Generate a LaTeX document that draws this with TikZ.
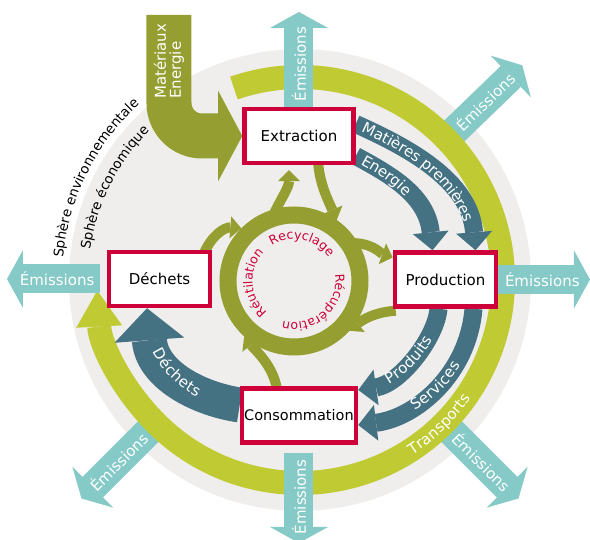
\documentclass[tikz,border=0pt]{standalone}
\usepackage{fontspec}
\setmainfont{DejaVu Sans}
\usetikzlibrary{
  arrows.meta,
  calc,
  backgrounds,
  decorations.text
}
\definecolor{spheregrey}{RGB}{239,238,236}
\definecolor{transportlime}{RGB}{192,202,51}
\definecolor{flowolive}{RGB}{149,158,48}
\definecolor{flowteal}{RGB}{69,114,130}
\definecolor{emisteal}{RGB}{133,202,199}
\definecolor{stagered}{RGB}{206,0,58}

\tikzset{
  stage/.style={draw=stagered, fill=white, line width=4.5pt, minimum height=54pt,
    inner sep=0pt, font=\fontsize{15}{18}\selectfont},
  emis/.style={draw=emisteal, line width=29pt,
    -{Triangle[width=58pt, length=16pt, line width=0pt]}},
  emislabel/.style={text=white, inner sep=0pt, font=\fontsize{15}{18}\selectfont},
  flowband/.style={draw=flowteal, line width=18pt,
    -{Triangle[width=36pt, length=18pt, line width=0pt]}},
  recyarrow/.style={draw=flowolive, line width=10pt,
    -{Triangle[width=22pt, length=11pt, line width=0pt]}},
  curvetext/.style={decorate, decoration={text along path, text align=center, text={#1}}},
  bandtext/.style={curvetext={|\fontsize{15}{18}\selectfont\color{white}|#1},
    decoration={raise=-5pt}},
  ringtext/.style={curvetext={|\fontsize{12.5}{14}\selectfont\color{stagered}|#1}}
}

\begin{document}
\begin{tikzpicture}[x=1pt, y=1pt]
  \useasboundingbox (-300,-260) rectangle (290,280);
  % stages
  \node[stage, minimum width=109pt] (extr) at (-1,144) {Extraction};
  \node[stage, minimum width=101pt] (prod) at (145.5,0.5) {Production};
  \node[stage, minimum width=101pt] (dech) at (-140.5,1) {Déchets};
  \node[stage, minimum width=114pt, font=\fontsize{14.5}{17}\selectfont] (cons) at (-1,-135.5) {Consommation};
  \node[circle, draw=flowolive, line width=17pt, outer sep=8.5pt, minimum size=132pt] (recy) at (-6,-1) {};

  \begin{scope}[on background layer]
    \fill[spheregrey] (0,0) circle[radius=231pt];
    \path[curvetext={|\fontsize{13.5}{15}\selectfont|Sphère environnementale}]
      (177:238) arc[start angle=177, end angle=130, radius=238pt];
    \path[curvetext={|\fontsize{13.5}{15}\selectfont|Sphère économique}]
      (176:212) arc[start angle=176, end angle=131, radius=212pt];
    % diagonal emissions
    \foreach \ang/\nm in {44/ne, -45/se, 225/sw} {
      \coordinate (\nm-in) at (\ang:205);
      \coordinate (\nm-out) at (\ang:309);
      \draw[emis] (\nm-in) -- (\nm-out) node[emislabel, midway, sloped] {Émissions};
    }
    % transports
    \draw[transportlime, line width=24pt, -{Triangle[width=46pt, length=36pt, line width=0pt]}]
      (109:203) arc[start angle=109, end angle=-177, radius=203pt];
    % materials and energy
    \coordinate (matin) at (-131,265);
    \draw[flowolive, line width=45pt, rounded corners=33pt,
      -{Triangle[width=90pt, length=24pt, line width=0pt]}] (matin) |- (extr.west);
    % flows between stages
    \draw[flowband] ([yshift=12pt]extr.east) .. controls (107,133) and (170,100) .. ([xshift=30pt]prod.north);
    \draw[flowband] ([yshift=-20pt]extr.east) .. controls (89,106) and (127,85) .. ([xshift=-13pt]prod.north);
    \draw[flowband] ([xshift=-7pt]prod.south) .. controls (136,-58) and (100,-104) .. ([yshift=25.5pt]cons.east);
    \draw[flowband] ([xshift=28pt]prod.south) .. controls (168,-95) and (115,-138) .. ([yshift=-9.5pt]cons.east);
    \draw[flowband, line width=35pt, -{Triangle[width=70pt, length=32pt, line width=0pt]}]
      ([yshift=10.5pt]cons.west) .. controls (-101,-119) and (-148,-95) .. ([xshift=-12.5pt]dech.south);
    % band labels
    \path[bandtext={Matières premières}, decoration={text align={left, left indent=8pt}}]
      ([yshift=12pt]extr.east) .. controls (107,133) and (170,100) .. ([xshift=30pt]prod.north);
    \path[bandtext={Energie}, decoration={text align={left, left indent=8pt}}]
      ([yshift=-20pt]extr.east) .. controls (89,106) and (127,85) .. ([xshift=-13pt]prod.north);
    \path[bandtext={Produits}]
      ([yshift=25.5pt]cons.east) .. controls (100,-104) and (136,-58) .. ([xshift=-7pt]prod.south);
    \path[bandtext={Services}]
      ([yshift=-9.5pt]cons.east) .. controls (115,-138) and (168,-95) .. ([xshift=28pt]prod.south);
    \path[bandtext={Déchets}]
      ([xshift=-12.5pt]dech.south) .. controls (-148,-95) and (-101,-119) .. ([yshift=10.5pt]cons.west);
    % recycling loop
    \draw[recyarrow] ($(recy)+(110:66)$) .. controls (-20,80) and (-11,92) .. ([xshift=-10pt, yshift=-5pt]extr.south);
    \draw[recyarrow] ([xshift=19pt, yshift=3pt]extr.south) .. controls (20,95) and (28,80) .. (recy.55);
    \draw[recyarrow] ($(recy)+(35:66)$) .. controls (72,38) and (80,27) .. ([yshift=22pt]prod.west);
    \draw[recyarrow] ([xshift=3pt, yshift=-2pt]prod.south west) .. controls (75,-32) and (62,-40) .. (recy.-42);
    \draw[recyarrow] ([xshift=-22pt, yshift=-3pt]cons.north) .. controls (-27,-85) and (-45,-70) .. (recy.228);
    \draw[recyarrow] ([xshift=-8pt, yshift=-3pt]dech.north east) .. controls (-88,45) and (-75,53) .. (recy.135);
  \end{scope}

  % emissions from the stages
  \coordinate (eN) at (-1,268);
  \coordinate (eE) at (290,0.5);
  \coordinate (eS) at (-1,-263);
  \coordinate (eW) at (-293,1);
  \draw[emis] (extr.north) -- (eN) node[emislabel, pos=0.45, rotate=90] {Émissions};
  \draw[emis] (prod.east) -- (eE) node[emislabel, pos=0.48] {Émissions};
  \draw[emis] ([yshift=-8pt]cons.south) -- (eS) node[emislabel, pos=0.49, rotate=90] {Émissions};
  \draw[emis] ([xshift=-7pt]dech.west) -- (eW) node[emislabel, pos=0.46] {Émissions};

  % texts on the loops
  \path[ringtext={Recyclage}] ($(recy)+(134:41.5)$) arc[start angle=134, end angle=22, radius=41.5pt];
  \path[ringtext={Récupération}] ($(recy)+(24:41.5)$) arc[start angle=24, end angle=-120, radius=41.5pt];
  \path[ringtext={Réutilation}] ($(recy)+(239:41.5)$) arc[start angle=239, end angle=127, radius=41.5pt];
  \path[curvetext={|\fontsize{15}{18}\selectfont\color{white}|Transports}, decoration={raise=-5pt}]
    (-72:203) arc[start angle=-72, end angle=-20, radius=203pt];
  \node[emislabel, rotate=90, align=left, anchor=west, font=\fontsize{15}{15}\selectfont]
    (matlabel) at (-131,181) {Matériaux\\Energie};
\end{tikzpicture}
\end{document}
